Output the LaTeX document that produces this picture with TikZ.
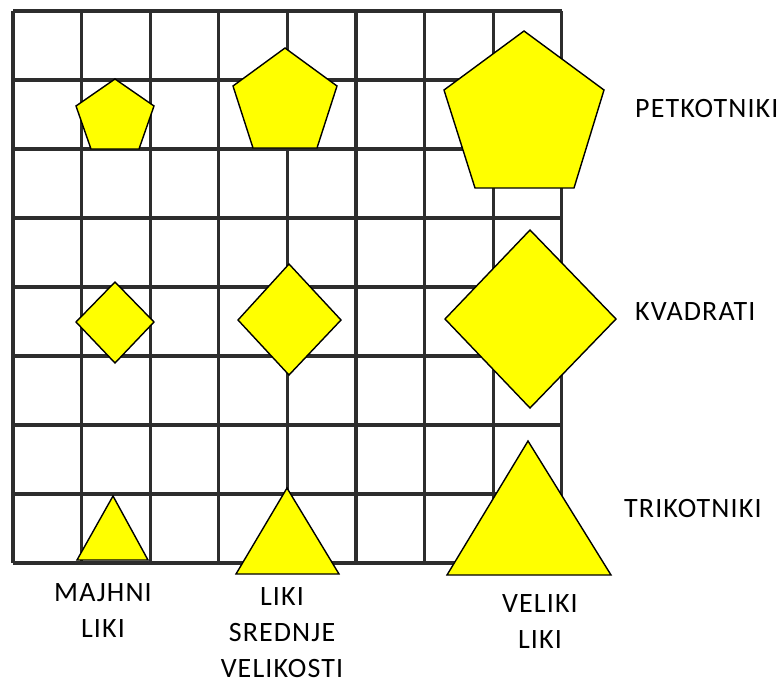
\documentclass[tikz,border=0pt]{standalone}
\usepackage{fontspec}
\setmainfont[LetterSpace=4]{Carlito}
\definecolor{shapeyellow}{RGB}{255,255,0}
\definecolor{gridgray}{RGB}{45,45,45}
\begin{document}
\begin{tikzpicture}[x=1pt,y=-1pt,
  gridline/.style={draw=gridgray,line width=3.2pt},
  shapefill/.style={fill=shapeyellow,draw=black,line width=1.4pt,line join=miter},
  lbl/.style={font=\fontsize{28}{36}\selectfont,inner sep=0pt,align=center,text=black}]
\useasboundingbox (0,0) rectangle (781,683);
% grid
\foreach \i in {0,...,8}{
  \draw[gridline] ({13+\i*68.6},11) -- ({13+\i*68.6},563);
  \draw[gridline] (13,{11+\i*69}) -- (562,{11+\i*69});
}
% pentagons
\draw[shapefill] (115,79) -- (154,106) -- (139,149) -- (91,149) -- (76,106) -- cycle;
\draw[shapefill] (285,48) -- (337,86) -- (317,148) -- (253,148) -- (233,86) -- cycle;
\draw[shapefill] (524,31) -- (604,90) -- (574,188) -- (475,188) -- (444,90) -- cycle;
% diamonds
\draw[shapefill] (115,282) -- (154,322) -- (115,363) -- (76,322) -- cycle;
\draw[shapefill] (289,264) -- (341,320) -- (289,375) -- (238,320) -- cycle;
\draw[shapefill] (530,230) -- (616,319) -- (530,408) -- (445,319) -- cycle;
% triangles
\draw[shapefill] (113,496) -- (148,560) -- (77,560) -- cycle;
\draw[shapefill] (287,488) -- (339,574) -- (236,574) -- cycle;
\draw[shapefill] (528,441) -- (611,575) -- (447,575) -- cycle;
% labels
\node[lbl,anchor=base west] (pet) at (635,117) {PETKOTNIKI};
\node[lbl,anchor=base west] (kva) at (635,320) {KVADRATI};
\node[lbl,anchor=base west] (tri) at (624,517) {TRIKOTNIKI};
\node[lbl,anchor=base] (maj) at (103,637) {MAJHNI\\LIKI};
\node[lbl,anchor=base] (sre) at (282,677) {LIKI\\SREDNJE\\VELIKOSTI};
\node[lbl,anchor=base] (vel) at (540,648) {VELIKI\\LIKI};
\end{tikzpicture}
\end{document}
